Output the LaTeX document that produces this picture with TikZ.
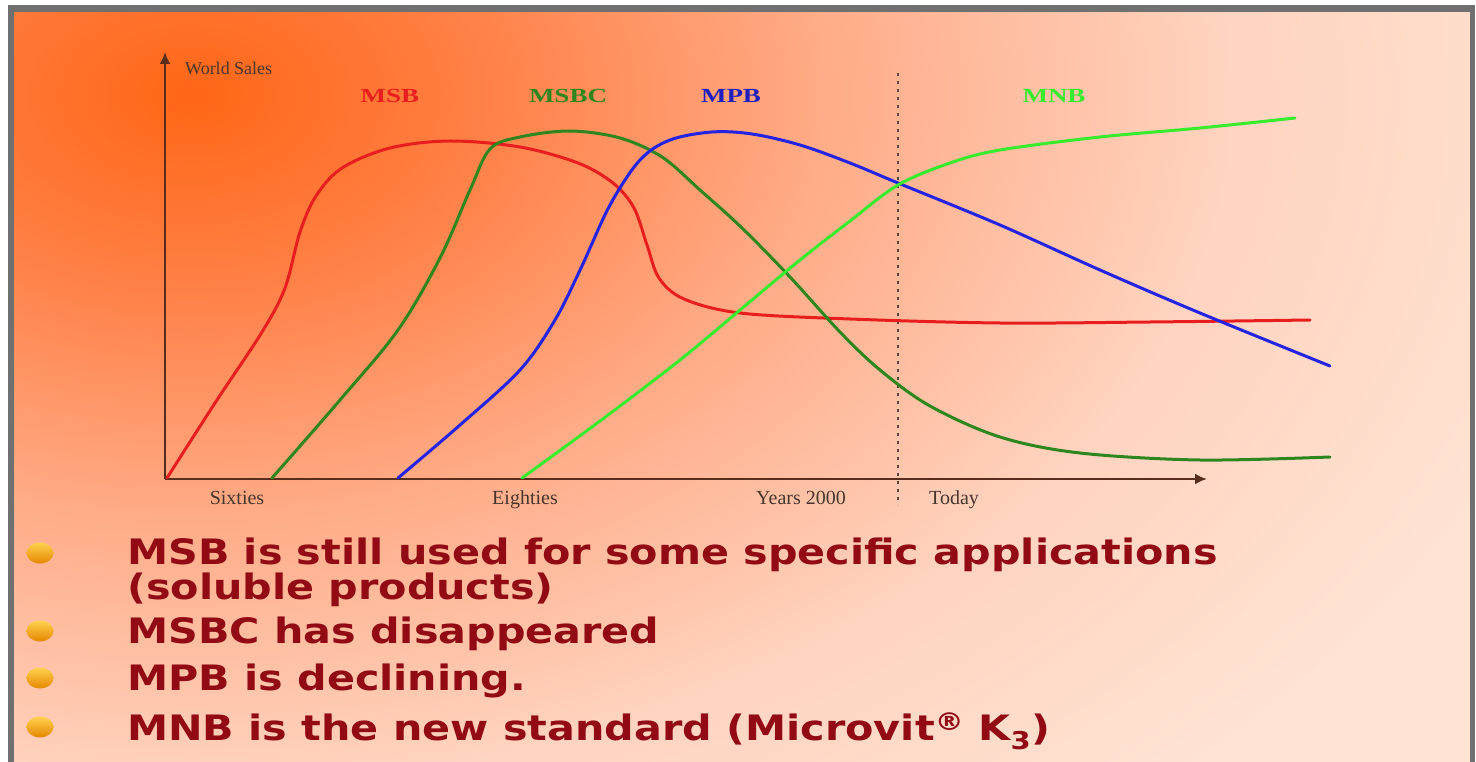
\documentclass[tikz,border=0pt]{standalone}
\usepackage{fontspec}
\setmainfont{Liberation Serif}
\newfontfamily\bulletfont[FakeStretch=1.18]{DejaVu Sans}
\newfontfamily\seriesfont[FakeStretch=1.35]{Liberation Serif}
\usetikzlibrary{arrows.meta}

% palette
\definecolor{glowA}{RGB}{255,102,22}
\definecolor{glowB}{RGB}{255,128,70}
\definecolor{glowC}{RGB}{255,172,136}
\definecolor{glowD}{RGB}{255,212,192}
\definecolor{glowE}{RGB}{255,228,212}
\definecolor{framegray}{RGB}{112,112,112}
\definecolor{axisbrown}{RGB}{88,45,30}
\definecolor{tickgray}{RGB}{70,55,45}
\definecolor{msbred}{RGB}{232,30,30}
\definecolor{msbcgreen}{RGB}{45,135,30}
\definecolor{mpbblue}{RGB}{35,35,225}
\definecolor{mnbgreen}{RGB}{55,235,45}
\definecolor{textred}{RGB}{145,10,20}
\definecolor{balltop}{RGB}{255,210,80}
\definecolor{ballmid}{RGB}{250,175,15}
\definecolor{ballbot}{RGB}{230,135,0}
\definecolor{dotgray}{RGB}{85,70,60}

% the path's bounding box spans the middle 50bp of a radial shading,
% so 25bp is the rim of the ellipse it is applied to
\pgfdeclareradialshading{bgglow}{\pgfpoint{0bp}{0bp}}{%
  color(0bp)=(glowA); color(5bp)=(glowB); color(11bp)=(glowC);
  color(18bp)=(glowD); color(25bp)=(glowE); color(50bp)=(glowE)}

\tikzset{
  axisline/.style={draw=axisbrown, line width=2.4pt,
    -{Latex[length=12pt,width=11pt]}},
  curve/.style={line width=3pt, line cap=round, line join=round},
  ticklabel/.style={font=\fontsize{20}{20}\selectfont, text=tickgray, inner sep=0pt, anchor=base},
  serieslabel/.style={font=\seriesfont\bfseries\fontsize{20}{20}\selectfont, inner sep=0pt, anchor=base},
  bullettext/.style={font=\bulletfont\bfseries\fontsize{35}{35}\selectfont, text=textred,
    inner sep=0pt, anchor=base west},
  bulletball/.style={top color=balltop, middle color=ballmid, bottom color=ballbot},
}

\begin{document}
\begin{tikzpicture}[x=1pt,y=-1pt]
\useasboundingbox (0,0) rectangle (1476,762);
\fill[white] (0,0) rectangle (1476,762);

% warm glowing backdrop
\begin{scope}
  \clip (14,12) rectangle (1471,762);
  \fill[glowE] (14,12) rectangle (1471,762);
  \shade[shading=bgglow] (190,95) ellipse [x radius=1450pt, y radius=960pt];
\end{scope}

% slide frame
\draw[framegray, line width=7pt] (8,8.5) -- (1474,8.5);
\draw[framegray, line width=6pt] (11,5) -- (11,762);
\draw[framegray, line width=4.5pt] (1472.5,5) -- (1472.5,762);

% axes
\coordinate (O) at (165,479);
\coordinate (ytop) at (165,52);
\coordinate (xend) at (1207,479);
\draw[axisline] (O) -- (ytop);
\draw[axisline] (O) -- (xend);

% the present-day divider
\coordinate (dtop) at (898,73);
\coordinate (dbot) at (898,505);
\draw[dotgray, line width=2.6pt, dash pattern=on 2.6pt off 5.4pt] (dtop) -- (dbot);

% axis captions
\node[font=\fontsize{18}{18}\selectfont, text=tickgray, inner sep=0pt, anchor=base west] (ylab) at (185,75) {World Sales};
\node[ticklabel] (t1) at (237,504) {Sixties};
\node[ticklabel] (t2) at (525,504) {Eighties};
\node[ticklabel] (t3) at (801,504) {Years 2000};
\node[ticklabel] (t4) at (954,504) {Today};

% series names
\node[serieslabel, text=msbred] (lmsb) at (390,103) {MSB};
\node[serieslabel, text=msbcgreen] (lmsbc) at (568,103) {MSBC};
\node[serieslabel, text=mpbblue!85!black] (lmpb) at (731,103) {MPB};
\node[serieslabel, text=mnbgreen] (lmnb) at (1054,103) {MNB};

% MSB
\draw[curve, msbred] plot[smooth, tension=0.55] coordinates {
  (167,478) (215,403) (262,332) (285,288) (300,232) (316,196) (342,168)
  (390,148) (450,141) (520,147) (578,163) (613,183) (634,208) (647,245)
  (659,278) (684,299) (740,313) (850,319) (1000,323) (1150,322) (1310,320)};

% MSBC
\draw[curve, msbcgreen] plot[smooth, tension=0.55] coordinates {
  (272,478) (340,400) (398,330) (440,258) (470,190) (490,149) (520,137)
  (570,131) (620,138) (662,157) (700,190) (742,228) (790,277) (840,332)
  (880,370) (930,406) (1000,437) (1080,453) (1200,460) (1330,457)};

% MPB
\draw[curve, mpbblue] plot[smooth, tension=0.55] coordinates {
  (398,478) (460,425) (520,370) (555,320) (581,268) (610,205) (640,160)
  (670,140) (712,132) (752,134) (800,145) (850,163) (898,183) (1000,225)
  (1100,270) (1200,313) (1330,366)};

% MNB
\draw[curve, mnbgreen] plot[smooth, tension=0.55] coordinates {
  (522,478) (600,421) (680,360) (740,310) (800,260) (850,221) (898,185)
  (950,163) (1000,150) (1100,137) (1200,128) (1295,118)};

% bullet points
\shade[bulletball] (40,553) ellipse [x radius=13.5pt, y radius=10.5pt];
\shade[bulletball] (40,631) ellipse [x radius=13.5pt, y radius=10.5pt];
\shade[bulletball] (40,678) ellipse [x radius=13.5pt, y radius=10.5pt];
\shade[bulletball] (40,727) ellipse [x radius=13.5pt, y radius=10.5pt];

\node[bullettext, text depth=0pt] (b1) at (127,564) {MSB is still used for some specific applications};
\node[bullettext, text height=26pt] (b1b) at (127,599) {(soluble products)};
\node[bullettext] (b2) at (127,643) {MSBC has disappeared};
\node[bullettext] (b3) at (127,690) {MPB is declining.};
\node[bullettext] (b4) at (127,740) {MNB is the new standard (Microvit\textsuperscript{®} K\textsubscript{3})};
\end{tikzpicture}
\end{document}
